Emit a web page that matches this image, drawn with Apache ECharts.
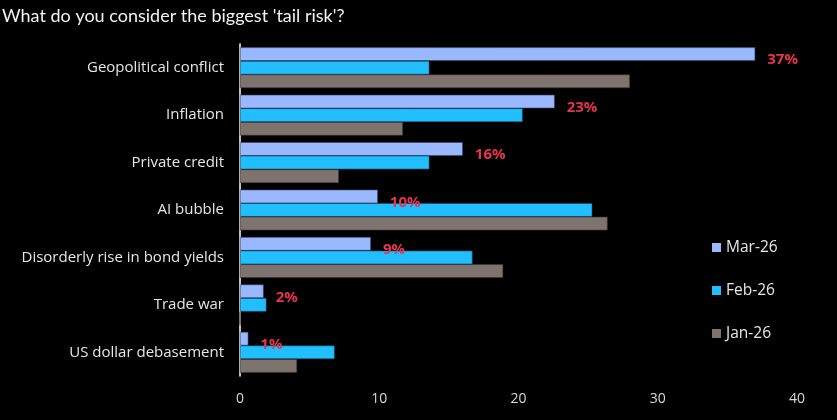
<!DOCTYPE html>
<html>
<head>
<meta charset="utf-8">
<script src="https://cdn.jsdelivr.net/npm/echarts@6/dist/echarts.min.js"></script>
<style>
html,body{margin:0;padding:0;background:#000;}
#c{width:837px;height:420px;}
</style>
</head>
<body>
<div id="c"></div>
<script>
var categories = ['Geopolitical conflict','Inflation','Private credit','AI bubble','Disorderly rise in bond yields','Trade war','US dollar debasement'];
var mar26 = [37.0, 22.6, 16.0, 9.9, 9.4, 1.7, 0.6];
var feb26 = [13.6, 20.3, 13.6, 25.3, 16.7, 1.9, 6.8];
var jan26 = [28.0, 11.7, 7.1, 26.4, 18.9, 0, 4.1];
var xTicks = [0, 10, 20, 30, 40];

var chart = echarts.init(document.getElementById('c'));
var fontFam = '"Open Sans", Lato, sans-serif';
chart.setOption({
  backgroundColor: '#000',
  animation: false,
  title: {
    text: "What do you consider the biggest 'tail risk'?",
    left: -3, top: 2,
    textStyle: {color: '#f2f2f2', fontSize: 18, fontWeight: 'normal', fontFamily: 'Lato, sans-serif'}
  },
  legend: {
    orient: 'vertical',
    left: 707, top: 232,
    itemWidth: 9, itemHeight: 9, itemGap: 22,
    icon: 'rect',
    itemStyle: {borderWidth: 0},
    textStyle: {color: '#e6e6e6', fontSize: 15.5, fontFamily: fontFam, lineHeight: 21},
    data: ['Mar-26','Feb-26','Jan-26']
  },
  grid: {left: 240, right: 40, top: 44, bottom: 44},
  xAxis: {
    type: 'value', min: xTicks[0], max: xTicks[xTicks.length-1], interval: 10,
    axisLine: {show: false}, axisTick: {show: false}, splitLine: {show: false},
    axisLabel: {color: '#d9d9d9', fontSize: 14, fontFamily: fontFam, margin: 16}
  },
  yAxis: {
    type: 'category', data: categories, inverse: true,
    axisLine: {show: true, lineStyle: {color: '#ffffff', width: 1.5}},
    axisTick: {show: false},
    axisLabel: {color: '#e6e6e6', fontSize: 15, fontFamily: fontFam, margin: 16}
  },
  series: [
    {
      name: 'Mar-26', type: 'bar', data: mar26, barGap: '0%', barCategoryGap: '14%',
      itemStyle: {color: '#99b8ff', borderColor: '#3a4660', borderWidth: 0.6},
      label: {
        show: true, position: 'right', distance: 12, offset: [0, 6],
        color: '#e8344d', fontWeight: 'bold', fontSize: 15, fontFamily: fontFam,
        formatter: function(p){ return Math.round(p.value) + '%'; }
      }
    },
    {
      name: 'Feb-26', type: 'bar', data: feb26, barGap: '0%', barCategoryGap: '14%',
      itemStyle: {color: '#21bfff', borderColor: '#1a4a60', borderWidth: 0.6}
    },
    {
      name: 'Jan-26', type: 'bar', data: jan26, barGap: '0%', barCategoryGap: '14%',
      itemStyle: {color: '#7f7370', borderColor: '#3a3433', borderWidth: 0.6}
    }
  ]
});
</script>
</body>
</html>
